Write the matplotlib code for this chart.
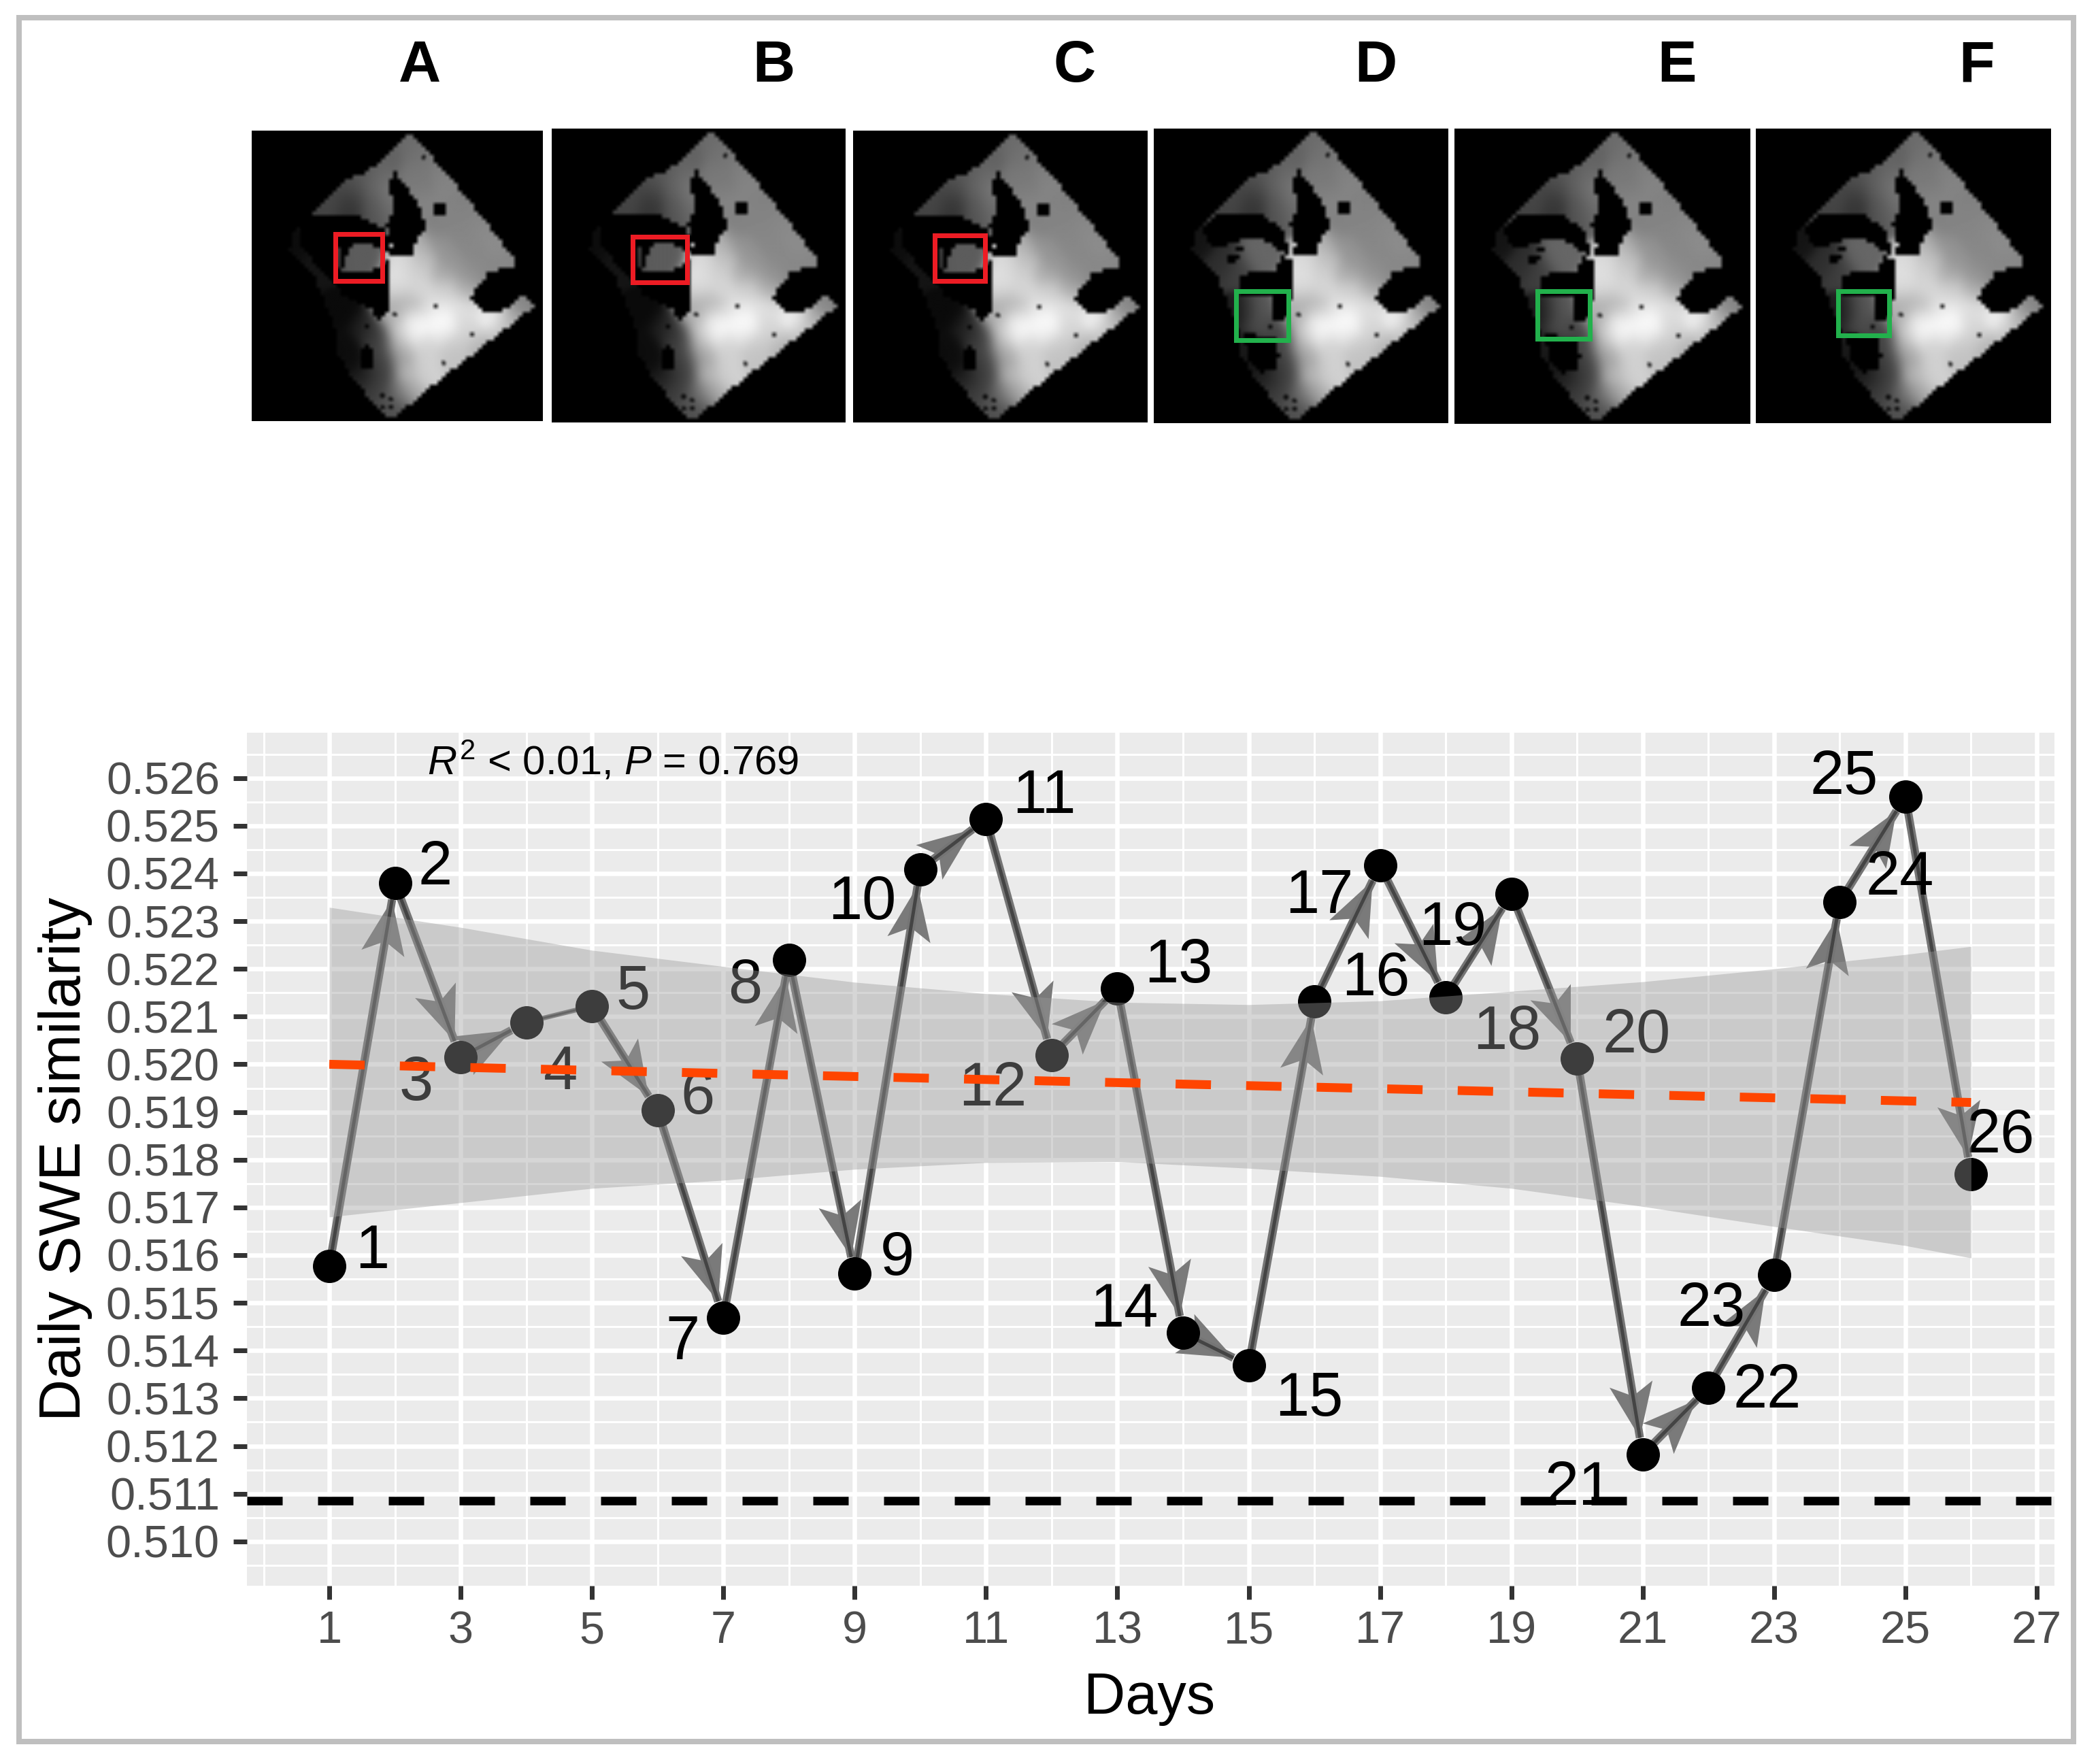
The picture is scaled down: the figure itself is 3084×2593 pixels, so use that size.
import numpy as np
import matplotlib
matplotlib.use("Agg")
import matplotlib.pyplot as plt
from matplotlib.path import Path
from matplotlib.patches import Polygon, Rectangle

plt.rcParams['font.family'] = ['Liberation Sans', 'DejaVu Sans']
plt.rcParams['mathtext.fontset'] = 'custom'
plt.rcParams['mathtext.rm'] = 'Liberation Sans'
plt.rcParams['mathtext.it'] = 'Liberation Sans:italic'
plt.rcParams['lines.scale_dashes'] = False

# ---------- data ----------
days = list(range(1, 27))
swe = [.51577, .5238, .52015, .52088, .52122, .51903, .51469, .52219, .51561, .52409,
       .52514, .52019, .52159, .51437, .51369, .52132, .52417, .5214, .52357, .52012,
       .51182, .51322, .51558, .5234, .52561, .5177]
no_head_segments = [4]            # segment starting at day 4 has no arrow head
band_days = [1, 3, 5, 7, 9, 11, 13, 15, 17, 19, 21, 23, 25, 26]
band_upper = [.52329, .52287, .52239, .52205, .52172, .52148, .5213, .52125, .52133, .52153, .52173, .522, .5223, .52247]
band_lower = [.5168, .5171, .5174, .51757, .5178, .51794, .51796, .51782, .51765, .5174, .51702, .5166, .5162, .51594]
trend_days = [1, 26]
trend_vals = [.5200, .5192]
reference_level = .51085
x_ticks = list(range(1, 28, 2))
x_minor = list(range(0, 27, 2))
y_ticks = [round(.510 + i * .001, 3) for i in range(17)]
y_minor = [round(.5095 + i * .001, 4) for i in range(18)]
panel_letters = ['A', 'B', 'C', 'D', 'E', 'F']

# layout (pixels in the 3084x2593 canvas)
W, H = 3084, 2593
label_dx = [63, 59, -65, 50, 60, 59, -60, -65, 62, -86, 85, -87, 90, -87, 89, 90, -89, 90, -86, 87, -94, 86, -92, 88, -90, 43]
label_dy = [-21, -21, 40, 75, -19, -19, 38, 40, -22, 50, -32, 50, -32, -33, 51, -32, 47, 52, 51, -33, 50, 6, 51, -34, -27, -55]
letter_x = [617, 1137, 1580, 2022, 2465, 2906]
map_rects = [(370, 797, 192, 619), (811, 1243, 189, 621), (1254, 1686, 192, 621),
             (1696, 2129, 189, 622), (2138, 2573, 189, 623), (2581, 3014, 189, 622)]
box_rects = [(493, 562, 344, 413), (930, 1010, 348, 415), (1374, 1448, 346, 413),
             (1817, 1894, 428, 500), (2260, 2337, 428, 498), (2702, 2777, 428, 493)]
box_colors = ['#ED1C24'] * 3 + ['#22B14C'] * 3
map_variant = ['early'] * 3 + ['late'] * 3

# ---------- map imagery, hand-read outline and brightness samples ----------
outline = [(415, 75), (470, 170), (530, 290), (630, 510), (692, 660), (620, 690), (600, 740), (570, 805),
           (600, 870), (650, 870), (705, 800), (735, 845), (690, 905), (650, 960), (620, 1000), (540, 1110),
           (440, 1250), (372, 1355), (320, 1270), (260, 1140), (230, 1050), (225, 940), (170, 700), (110, 590),
           (120, 520), (170, 430), (260, 270), (300, 250), (340, 200)]
lake = [(378, 240), (362, 290), (370, 360), (380, 400), (358, 480), (370, 570), (365, 615), (425, 615),
        (430, 560), (458, 490), (445, 410), (415, 330)]
square = [(476, 385), (508, 385), (508, 440), (476, 440)]
late_black = [
    [(130, 510), (170, 440), (290, 445), (340, 510), (355, 620), (330, 600), (290, 550), (240, 550), (170, 590)],
    [(335, 620), (360, 640), (362, 790), (345, 910), (315, 900), (310, 800), (232, 790), (225, 700), (250, 700), (320, 690)],
    [(240, 960), (320, 985), (330, 1060), (320, 1120), (285, 1140), (255, 1090)],
    [(200, 625), (235, 620), (235, 640), (200, 650)], [(220, 585), (240, 585), (240, 600), (220, 600)],
]
early_black = [
    [(135, 450), (180, 430), (290, 440), (350, 500), (360, 540), (240, 540), (225, 700), (225, 760), (360, 740),
     (370, 860), (335, 905), (320, 860), (250, 800), (170, 640), (135, 560)],
    [(240, 535), (362, 535), (360, 600), (305, 565), (275, 560), (255, 620), (240, 690)],
    [(235, 680), (280, 695), (330, 680), (360, 640), (362, 745), (225, 760)],
    [(300, 1000), (325, 1050), (320, 1130), (290, 1130)],
]
samples_common = [
    (415, 100, .42),
    (370, 170, .38), (430, 170, .44), (470, 170, .47),
    (300, 240, .35), (350, 240, .4), (430, 240, .47), (500, 240, .5),
    (270, 310, .3), (320, 310, .38), (355, 310, .47), (440, 310, .48), (520, 310, .52),
    (220, 380, .28), (270, 380, .22), (320, 380, .34), (360, 380, .47), (450, 380, .52), (540, 380, .5),
    (190, 430, .26), (260, 430, .2), (330, 430, .32), (370, 430, .42), (520, 430, .52), (590, 430, .52),
    (480, 500, .5), (540, 500, .52), (610, 500, .54),
    (440, 570, .7), (490, 570, .58), (560, 570, .53), (640, 570, .55),
    (400, 640, .85), (450, 640, .75), (520, 640, .58), (590, 640, .53), (670, 640, .53),
    (380, 700, .88), (440, 700, .82), (500, 700, .66), (570, 700, .58), (610, 700, .53),
    (375, 770, .85), (440, 770, .85), (500, 770, .82), (560, 770, .68),
    (370, 840, .68), (420, 840, .7), (480, 840, .88), (540, 840, .88), (620, 840, .82), (700, 840, .52),
    (370, 900, .7), (430, 900, .95), (500, 900, 1.0), (560, 900, .86), (620, 900, 1.0), (670, 900, .7),
    (390, 960, .82), (430, 960, 1.0), (500, 960, .95), (570, 960, .82), (640, 960, .76),
    (390, 1020, .7), (450, 1020, .82), (520, 1020, .78), (600, 1020, .7),
    (400, 1090, .65), (460, 1090, .82), (530, 1090, .76),
    (410, 1160, .74), (460, 1160, .82),
    (405, 1230, .6), (430, 1230, .7),
    (340, 1010, .25), (350, 1090, .24), (350, 1160, .25), (300, 1160, .14),
    (330, 1230, .24), (380, 1230, .34), (370, 1300, .32), (400, 1300, .34), (372, 1340, .3),
]
samples_late = [(270, 630, .4), (300, 620, .4), (190, 640, .18), (230, 680, .25), (275, 860, .36), (280, 930, .3),
                (330, 950, .25), (240, 870, .1), (130, 560, .08), (250, 1020, .1), (270, 1100, .08)]
samples_early = [(280, 625, .36), (310, 640, .36), (190, 640, .08), (300, 940, .12), (330, 960, .22), (250, 880, .04),
                 (130, 560, .05), (250, 1020, .05), (270, 1100, .05)]
station_dots = [(452, 178), (482, 846), (378, 881), (307, 936), (574, 972), (502, 1100),
                (347, 1245), (368, 1262), (347, 1297), (368, 1297)]


def norm(pts):
    a = np.array(pts, float)
    return np.c_[(a[:, 0] - 14) / 741, (a[:, 1] - 58) / 1302]


def build_map(kind):
    cells = 72
    fine = 3
    c = (np.arange(cells) + .5) / cells
    cu, cv = np.meshgrid(c, c)
    cpts = np.c_[cu.ravel(), cv.ravel()]
    mask = Path(norm(outline)).contains_points(cpts)
    for poly in [lake, square] + (early_black if kind == 'early' else late_black):
        mask &= ~Path(norm(poly)).contains_points(cpts)
    mask = mask.reshape(cells, cells).astype(float)
    mask = np.kron(mask, np.ones((fine, fine)))
    n = cells * fine
    f = (np.arange(n) + .5) / n
    fu, fv = np.meshgrid(f, f)
    s = np.array(samples_common + (samples_early if kind == 'early' else samples_late), float)
    su = (s[:, 0] - 14) / 741
    sv = (s[:, 1] - 58) / 1302
    d2 = (fu[..., None] - su) ** 2 + (fv[..., None] - sv) ** 2
    w = np.exp(-d2 / (2 * .032 ** 2)) + 1e-9
    field = (w * s[:, 2]).sum(-1) / w.sum(-1)
    img = field * mask
    for (du, dv) in norm(station_dots):
        img[(fu - du) ** 2 + (fv - dv) ** 2 < .008 ** 2] *= .2
    pad = np.pad(img, 1, mode='edge')
    img = sum(pad[1 + i:n + 1 + i, 1 + j:n + 1 + j] for i in (-1, 0, 1) for j in (-1, 0, 1)) / 9
    return img


fig = plt.figure(figsize=(W / 100, H / 100), dpi=100, facecolor='white')
px = 72 / 100  # points per pixel


def fx(x):
    return x / W


def fy(y):
    return 1 - y / H


# frame
fig.add_artist(Rectangle((fx(28), fy(2560)), (3048 - 28) / W, (2560 - 26) / H, transform=fig.transFigure,
                         fill=False, ec='#BFBFBF', lw=8 * px))

# maps and letters
maps = {k: build_map(k) for k in ('early', 'late')}
for i, (x0, x1, y0, y1) in enumerate(map_rects):
    a = fig.add_axes([fx(x0), fy(y1), (x1 - x0) / W, (y1 - y0) / H])
    a.imshow(maps[map_variant[i]], cmap='gray', vmin=0, vmax=1, aspect='auto', interpolation='bilinear')
    a.set_axis_off()
    b = box_rects[i]
    fig.add_artist(Rectangle((fx(b[0]), fy(b[3])), (b[1] - b[0]) / W, (b[3] - b[2]) / H, transform=fig.transFigure,
                             fill=False, ec=box_colors[i], lw=7 * px, zorder=5))
    fig.text(fx(letter_x[i]), fy(98), panel_letters[i], ha='center', va='center', fontsize=62, fontweight='bold', color='black')

# main panel
L, R, T, B = 363, 3020, 1077, 2331
ax = fig.add_axes([fx(L), fy(B), (R - L) / W, (B - T) / H], facecolor='#EBEBEB')
ax.set_xlim(-0.254, 27.27)
ax.set_ylim(.50907, .52695)
for s in ax.spines.values():
    s.set_visible(False)
ax.set_xticks(x_ticks)
ax.set_xticks(x_minor, minor=True)
ax.set_yticks(y_ticks)
ax.set_yticks(y_minor, minor=True)
ax.set_xticklabels([str(v) for v in x_ticks])
ax.set_yticklabels([f'{v:.3f}' for v in y_ticks])
ax.tick_params(which='major', length=20 * px, width=7 * px, color='#333333', labelcolor='#4D4D4D',
               labelsize=48, pad=20 * px)
ax.tick_params(axis='x', which='major', pad=16 * px)
ax.tick_params(which='minor', length=0)
ax.set_axisbelow(True)
ax.grid(which='major', color='white', lw=6.5 * px)
ax.grid(which='minor', color='white', lw=3 * px)

HEAD_LEN, HEAD_HALF, NOTCH, TIP_GAP = 80, 32, 62, 25
inv = ax.transData.inverted()
pts_px = ax.transData.transform(np.c_[days, swe])
for i in range(len(days) - 1):
    p0, p1 = pts_px[i], pts_px[i + 1]
    d = p1 - p0
    u = d / np.hypot(*d)
    n = np.array([-u[1], u[0]])
    tip = p1 - u * TIP_GAP
    if days[i] not in no_head_segments:
        head = np.array([tip, tip - u * HEAD_LEN + n * HEAD_HALF, tip - u * NOTCH, tip - u * HEAD_LEN - n * HEAD_HALF])
        ax.add_patch(Polygon(inv.transform(head), closed=True, fc='#7A7A7A', ec='none', zorder=2))
        end = inv.transform(tip)
        lw_out, lw_in = 12, 5
    else:
        end = (days[i + 1], swe[i + 1])
        lw_out, lw_in = 7, 3
    xs = [days[i], end[0]]
    ys = [swe[i], end[1]]
    ax.plot(xs, ys, color='#757575', lw=lw_out * px, solid_capstyle='butt', zorder=2.1)
    ax.plot(xs, ys, color='#444444', lw=lw_in * px, solid_capstyle='butt', zorder=2.2)

ax.scatter(days, swe, s=(49 * px) ** 2, color='black', linewidths=0, zorder=3)

for d, v, dx, dy in zip(days, swe, label_dx, label_dy):
    ax.annotate(str(d), (d, v), xytext=(dx, -dy), textcoords='offset pixels', ha='center', va='center',
                fontsize=65, color='black', zorder=4, annotation_clip=False)

ax.fill_between(band_days, band_lower, band_upper, color='#999999', alpha=.4, lw=0, zorder=5)
ax.plot(trend_days, trend_vals, color='#FF4500', lw=13 * px, dash_capstyle='butt',
        linestyle=(0, (52 * px, 51.7 * px)), zorder=6)
ax.axhline(reference_level, color='black', lw=12.5 * px, dash_capstyle='butt',
           linestyle=(0, (52 * px, 52 * px)), zorder=6)

fig.text(fx(628), fy(1139), r'$\mathit{R}^{2}$ < 0.01, $\mathit{P}$ = 0.769', fontsize=43, color='black', va='baseline', ha='left')
fig.text(fx(1690), fy(2497), 'Days', fontsize=61, ha='center', va='center', color='black')
fig.text(fx(96), fy(1704), 'Daily SWE similarity', fontsize=62, rotation=90, ha='center', va='center', color='black')

fig.savefig('out.png', dpi=100, facecolor='white')
